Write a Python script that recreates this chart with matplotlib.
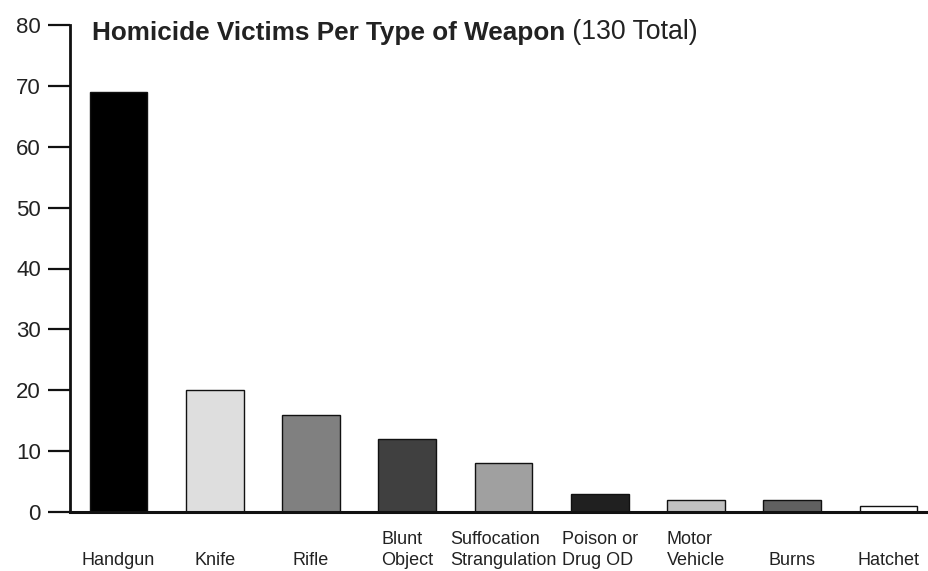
import matplotlib
matplotlib.use("Agg")
import matplotlib.pyplot as plt

plt.rcParams['font.family'] = ['Liberation Sans', 'DejaVu Sans']

weapons = ["\nHandgun", "\nKnife", "\nRifle", "Blunt\nObject", "Suffocation\nStrangulation",
           "Poison or\nDrug OD", "Motor\nVehicle", "\nBurns", "\nHatchet"]
victims = [69, 20, 16, 12, 8, 3, 2, 2, 1]
shades = ["#000000", "#dedede", "#808080", "#404040", "#a0a0a0",
          "#202020", "#c0c0c0", "#606060", "#ffffff"]
yticks = [0, 10, 20, 30, 40, 50, 60, 70, 80]

fig = plt.figure(figsize=(9.29, 5.71), dpi=100)
ax = fig.add_axes([70/929, 59/571, 1 - 70/929, 487/571])

pos = list(range(len(victims)))
ax.bar(pos, victims, width=0.6, color=shades, edgecolor="#111111", linewidth=1.0, zorder=2)

ax.set_xlim(-0.504, 8.42)
ax.set_ylim(0, 80)
ax.set_yticks(yticks)
ax.set_yticklabels([str(v) for v in yticks], fontsize=16, color="#222222")
ax.set_xticks(pos)
ax.set_xticklabels(weapons, fontsize=13, color="#222222", linespacing=1.24,
                   multialignment="left")

ax.tick_params(axis="y", length=16, width=1.6, pad=5, color="#111111")
ax.tick_params(axis="x", length=0, pad=14)

for s in ["top", "right"]:
    ax.spines[s].set_visible(False)
ax.spines["left"].set_linewidth(2)
ax.spines["bottom"].set_linewidth(2.2)
ax.spines["left"].set_color("#111111")
ax.spines["bottom"].set_color("#111111")

t1 = fig.text(92/929, 1 - 40/571, "Homicide Victims Per Type of Weapon",
              fontsize=18.8, fontweight="bold", color="#222222", va="baseline")
ax.annotate(" (130 Total)", xy=(1, 0), xycoords=t1, fontsize=19.2,
            color="#222222", va="bottom", ha="left")

fig.savefig("out.png", dpi=100)
